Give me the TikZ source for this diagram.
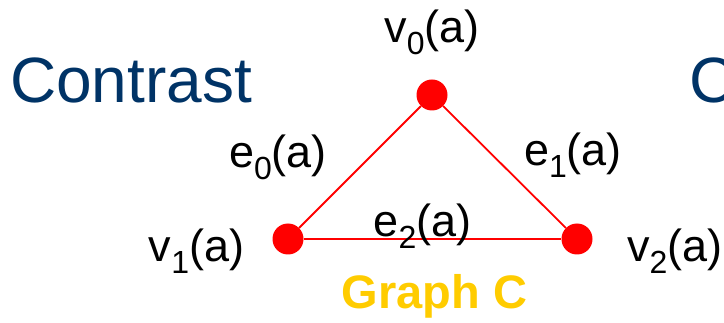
\documentclass[tikz,border=0pt]{standalone}
\usepackage{fontspec}
\setmainfont{Liberation Sans}
\definecolor{titleblue}{HTML}{003366}
\definecolor{graphgold}{HTML}{FFCC00}
\newcommand{\lbl}[1]{\raisebox{-12pt}{\fontsize{32}{32}\selectfont #1}}

\begin{document}
\begin{tikzpicture}[x=1pt, y=-1pt]

        % --- Styles for the vertices and labels ---
        \tikzset{
            vertex/.style={circle, fill=red, draw=none, minimum size=31pt, inner sep=0pt},
            edge/.style={red, line width=1.8pt},
            label text/.style={font=\fontsize{45}{45}\selectfont, inner sep=0pt, anchor=base},
            title text/.style={font=\fontsize{64}{64}\selectfont, titleblue, inner sep=0pt, anchor=base west}
        }

        \useasboundingbox (0,0) rectangle (724,323);
        \clip (0,0) rectangle (724,323);

        % --- Titles ---
        \node[title text] (contrast) at (10, 103) {Contrast};
        \node[title text] (nexttitle) at (689, 103) {C};

        % --- The three vertices ---
        \node[vertex] (v0) at (432, 95) {};
        \node[vertex] (v1) at (288, 239) {};
        \node[vertex] (v2) at (577, 239) {};

        % --- Edges of the triangle ---
        \draw[edge] (v0) -- (v1);
        \draw[edge] (v0) -- (v2);
        \draw[edge] (v1) -- (v2);

        % --- Vertex and edge labels ---
        \node[label text] (lv0) at (432, 43) {v\lbl{0}(a)};
        \node[label text] (lv1) at (196.5, 262) {v\lbl{1}(a)};
        \node[label text, anchor=base west] (lv2) at (627, 262) {v\lbl{2}(a)};
        \node[label text] (le0) at (278, 168) {e\lbl{0}(a)};
        \node[label text] (le1) at (573, 166) {e\lbl{1}(a)};
        \node[label text] (le2) at (422.5, 237) {e\lbl{2}(a)};

        % --- Caption ---
        \node[label text, font=\fontsize{47}{47}\selectfont\bfseries, graphgold] (caption) at (434.5, 309) {Graph C};

\end{tikzpicture}
\end{document}
